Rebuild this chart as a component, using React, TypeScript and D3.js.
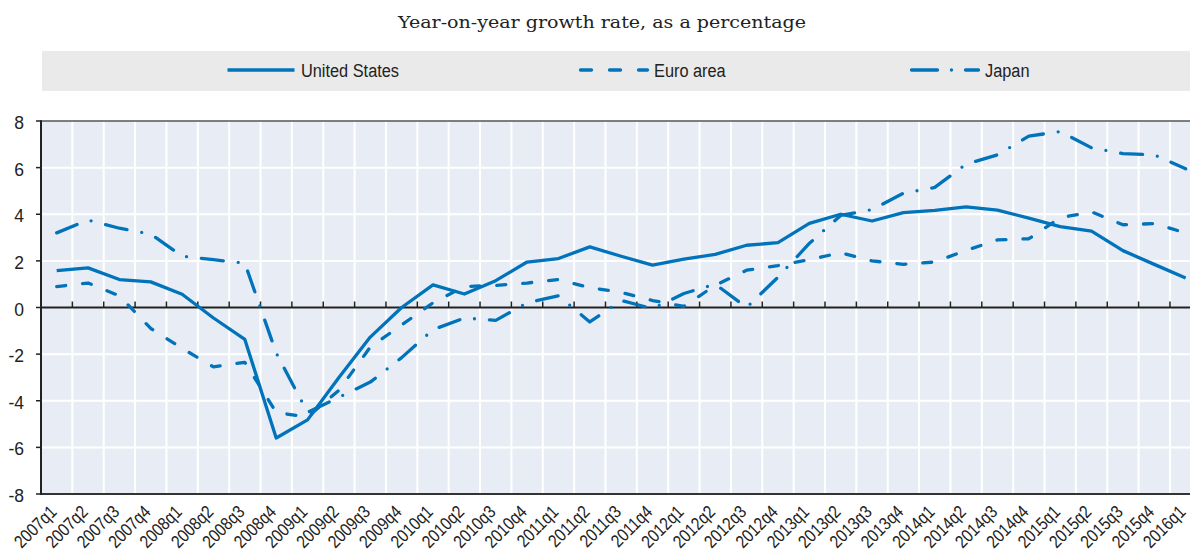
import React from "react";
import * as d3 from "d3";

const quarters = [
  "2007q1","2007q2","2007q3","2007q4",
  "2008q1","2008q2","2008q3","2008q4",
  "2009q1","2009q2","2009q3","2009q4",
  "2010q1","2010q2","2010q3","2010q4",
  "2011q1","2011q2","2011q3","2011q4",
  "2012q1","2012q2","2012q3","2012q4",
  "2013q1","2013q2","2013q3","2013q4",
  "2014q1","2014q2","2014q3","2014q4",
  "2015q1","2015q2","2015q3","2015q4",
  "2016q1",
];

const unitedStates = [
  1.58, 1.7, 1.2, 1.1,
  0.57, -0.45, -1.37, -5.6,
  -4.82, -3.0, -1.27, 0.0,
  0.97, 0.58, 1.15, 1.95,
  2.1, 2.6, 2.2, 1.82,
  2.07, 2.28, 2.67, 2.78,
  3.61, 4.0, 3.71, 4.07,
  4.17, 4.32, 4.18, 3.83,
  3.47, 3.28, 2.44, 1.85,
  1.27,
];

const euroArea = [
  0.9, 1.05, 0.5, -0.9,
  -1.75, -2.55, -2.35, -4.5,
  -4.7, -3.55, -1.7, -0.75,
  0.2, 0.9, 0.95, 1.05,
  1.2, 0.85, 0.65, 0.3,
  0.05, 0.95, 1.6, 1.8,
  2.05, 2.35, 2.0, 1.85,
  1.95, 2.45, 2.9, 2.95,
  3.85, 4.1, 3.55, 3.6,
  3.2,
];

const japan = [
  3.2, 3.75, 3.4, 3.15,
  2.2, 2.05, 1.9, -1.95,
  -4.5, -3.85, -3.2, -2.15,
  -0.95, -0.45, -0.55, 0.2,
  0.5, -0.62, 0.3, -0.05,
  0.6, 1.0, 0.0, 1.3,
  2.75, 3.95, 4.2, 4.9,
  5.15, 6.15, 6.55, 7.35,
  7.55, 6.85, 6.6, 6.55,
  5.95,
];

const yTicks = [-8, -6, -4, -2, 0, 2, 4, 6, 8];

const seriesNames = ["United States", "Euro area", "Japan"];

const BLUE = "#0073BB";
const SANS = "'Liberation Sans', Arial, sans-serif";

export default function App() {
  const W = 1190;
  const H = 551;
  const left = 41;
  const band = 31.36;
  const top = 121;
  const bottom = 494;

  const x = d3
    .scaleBand<string>()
    .domain(quarters)
    .range([left, left + band * quarters.length])
    .padding(0);
  const y = d3.scaleLinear().domain([-8, 8]).range([bottom, top]);
  const right = left + band * quarters.length;

  const cx = (i: number) => (x(quarters[i]) as number) + x.bandwidth() / 2;
  const line = d3
    .line<number>()
    .x((_, i) => cx(i))
    .y((d) => y(d));

  const series = [
    { name: seriesNames[0], values: unitedStates, dash: undefined as string | undefined, legendDash: undefined as string | undefined },
    { name: seriesNames[1], values: euroArea, dash: "9 17", legendDash: "11 18" },
    { name: seriesNames[2], values: japan, dash: "22 15 0 15", legendDash: "26 14 0 14" },
  ];

  const legendX = [226, 579, 910];

  return (
    <svg
      width={W}
      height={H}
      style={{ position: "absolute", left: 0, top: 0, display: "block", background: "#fff" }}
    >
      {/* subtitle */}
      <text
        x={602}
        y={28}
        textAnchor="middle"
        fontFamily="'DejaVu Serif', 'Liberation Serif', serif"
        fontSize={16}
        fill="#222"
        textLength={408}
        lengthAdjust="spacingAndGlyphs"
      >
        Year-on-year growth rate, as a percentage
      </text>

      {/* legend */}
      <rect x={42} y={51} width={W - 42} height={40} fill="#EAEAEA" />
      {series.map((s, i) => (
        <g key={s.name}>
          <line
            x1={legendX[i] + 1.5}
            x2={legendX[i] + 68.5}
            y1={70}
            y2={70}
            stroke={BLUE}
            strokeWidth={3.3}
            strokeLinecap={s.legendDash ? "round" : "butt"}
            strokeDasharray={s.legendDash}
          />
          <text
            transform={`translate(${legendX[i] + 75},77) scale(0.86,1)`}
            fontFamily={SANS}
            fontSize={19}
            fill="#222"
          >
            {s.name}
          </text>
        </g>
      ))}

      {/* plot background */}
      <rect x={left} y={top} width={right - left} height={bottom - top} fill="#E8EDF5" />

      {/* horizontal grid */}
      {yTicks.filter((t) => t !== 0 && t !== 8 && t !== -8).map((t) => (
        <line key={"h" + t} x1={left} x2={right} y1={y(t)} y2={y(t)} stroke="#fff" strokeWidth={2} />
      ))}
      {/* vertical grid */}
      {quarters.slice(1).map((q) => (
        <line key={"v" + q} x1={x(q) as number} x2={x(q) as number} y1={top} y2={bottom} stroke="#fff" strokeWidth={2} />
      ))}

      {/* top border */}
      <line x1={left} x2={right} y1={top} y2={top} stroke="#555" strokeWidth={1.5} />
      {/* zero line */}
      <line x1={left} x2={right} y1={y(0)} y2={y(0)} stroke="#222" strokeWidth={2} />
      {quarters.slice(1).map((q) => (
        <line key={"t" + q} x1={x(q) as number} x2={x(q) as number} y1={y(0) - 6} y2={y(0)} stroke="#222" strokeWidth={1.5} />
      ))}
      {/* bottom axis */}
      <line x1={left} x2={right} y1={bottom} y2={bottom} stroke="#333" strokeWidth={2} />
      {/* left axis */}
      <line x1={left} x2={left} y1={top - 0.75} y2={bottom + 1} stroke="#222" strokeWidth={2} />

      {/* y ticks */}
      {yTicks.map((t) => (
        <g key={"y" + t}>
          <line x1={left - 5} x2={left} y1={y(t)} y2={y(t)} stroke="#222" strokeWidth={1.5} />
          <text
            x={24}
            y={y(t) + 8}
            textAnchor="end"
            fontFamily={SANS}
            fontSize={17.5}
            fill="#222"
          >
            {t}
          </text>
        </g>
      ))}

      {/* x labels */}
      {quarters.map((q, i) => (
        <text
          key={"x" + q}
          transform={`translate(${cx(i) + 1},${513}) rotate(-45) scale(0.85,1)`}
          textAnchor="end"
          fontFamily={SANS}
          fontSize={18}
          fill="#222"
        >
          {q}
        </text>
      ))}

      {/* series */}
      {series.map((s) => (
        <path
          key={"p" + s.name}
          d={line(s.values) as string}
          fill="none"
          stroke={BLUE}
          strokeWidth={3.3}
          strokeLinejoin="round"
          strokeLinecap={s.dash ? "round" : "butt"}
          strokeDasharray={s.dash}
        />
      ))}
    </svg>
  );
}
